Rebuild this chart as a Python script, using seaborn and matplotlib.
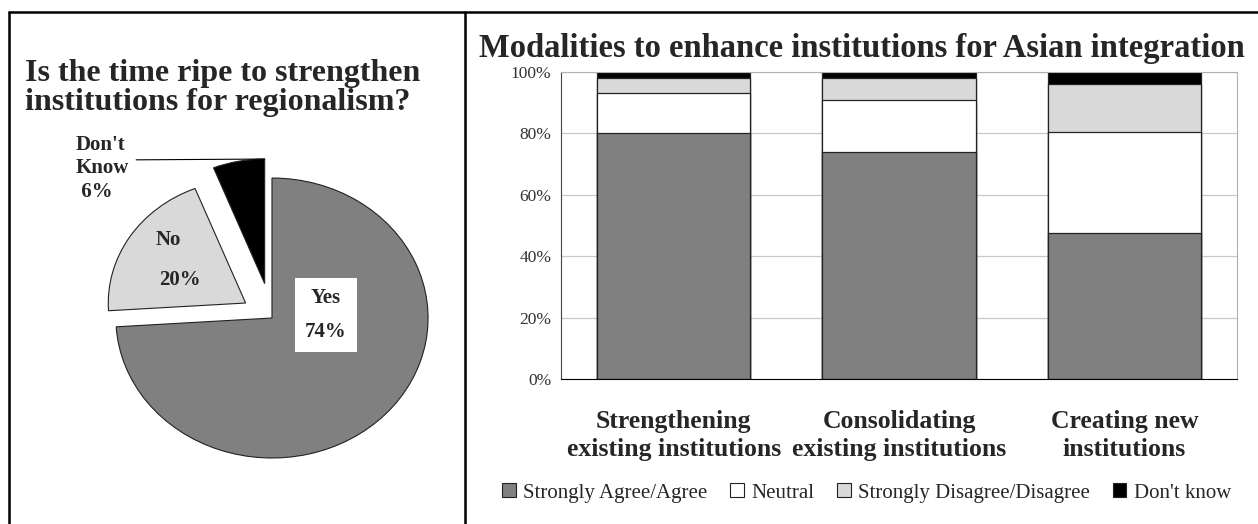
import numpy as np
import pandas as pd
import seaborn as sns
import matplotlib.pyplot as plt
from matplotlib.lines import Line2D
from matplotlib.patches import Patch

# pie data
pie_labels = ["Yes", "No", "Don't Know"]
pie_values = [74, 20, 6]
pie_colors = ["#808080", "#d9d9d9", "#000000"]

# stacked bar data (percent)
categories = ["Strengthening\nexisting institutions",
              "Consolidating\nexisting institutions",
              "Creating new\ninstitutions"]
series_names = ["Strongly Agree/Agree", "Neutral", "Strongly Disagree/Disagree", "Don't know"]
agree = [80, 74, 47.5]
neutral = [13, 17, 33]
disagree = [5, 7, 15.5]
dont_know = [2, 2, 4]
bar_colors = ["#808080", "#ffffff", "#d9d9d9", "#000000"]

sns.set_style("white")
plt.rcParams['font.family'] = ['Liberation Serif', 'DejaVu Serif']

fig = plt.figure(figsize=(12.58, 5.24), dpi=100)

# panel frame
for seg in [((0.0072, 0.0072), (0, 0.977)), ((0.0072, 1.0), (0.977, 0.977)), ((0.3696, 0.3696), (0, 0.977))]:
    fig.add_artist(Line2D(seg[0], seg[1], color="black", lw=1.8, transform=fig.transFigure))

# ---- pie ----
axp = fig.add_axes([0.0425, 0.0191, 0.3474, 0.748])
wedges, _ = axp.pie(pie_values, colors=pie_colors, startangle=90, counterclock=False,
                    explode=[0, 0.2, 0.25],
                    wedgeprops=dict(edgecolor="#222222", linewidth=0.8))
# exploded slices are drawn a bit smaller, like the original
wedges[1].set_radius(0.88)
wedges[2].set_radius(0.89)
axp.set_aspect("auto")
axp.set_xlim(-1.4, 1.4)
axp.set_ylim(-1.4, 1.4)
axp.axis("off")

lab_kw = dict(fontsize=15, fontweight="bold", ha="center", va="center")
axp.text(-0.667, 0.557, "No", **lab_kw)
axp.text(-0.59, 0.27, f"{pie_values[1]}%", **lab_kw)
axp.text(0.346, 0.021, f"{pie_labels[0]}\n\n{pie_values[0]}%", linespacing=0.8,
         bbox=dict(facecolor="white", edgecolor="none", pad=7), **lab_kw)
axp.text(-1.256, 1.31, f"Don't\nKnow\n {pie_values[2]}%", fontsize=15, fontweight="bold",
         ha="left", va="top", linespacing=1.25)
dk = wedges[2]
top_pt = (dk.center[0] + dk.r * np.cos(np.radians(90)), dk.center[1] + dk.r * np.sin(np.radians(90)))
axp.annotate("", xy=top_pt, xytext=(-0.87, 1.13),
             arrowprops=dict(arrowstyle="-", lw=0.8, color="black", shrinkA=0, shrinkB=0))

fig.text(0.0199, 0.888, "Is the time ripe to strengthen\ninstitutions for regionalism?",
         fontsize=23, fontweight="bold", ha="left", va="top", linespacing=1.0)

# ---- stacked bars ----
axb = fig.add_axes([0.446, 0.2767, 0.5374, 0.5859])
df = pd.DataFrame({"category": categories, series_names[0]: agree, series_names[1]: neutral,
                   series_names[2]: disagree, series_names[3]: dont_know})
cum = df[series_names].cumsum(axis=1)
for name, color in reversed(list(zip(series_names, bar_colors))):
    sns.barplot(x=df["category"], y=cum[name], color=color, width=0.68, saturation=1,
                edgecolor="#222222", linewidth=0.9, ax=axb, zorder=2)

axb.set_xlim(-0.5, 2.5)
axb.set_ylim(0, 100)
axb.set_yticks(range(0, 101, 20))
axb.set_yticklabels([f"{v}%" for v in range(0, 101, 20)], fontsize=12.5, color="#333333")
axb.yaxis.grid(True, color="#c8c8c8", lw=0.9, zorder=0)
axb.set_axisbelow(True)
axb.set_xticks([-0.5, 0.5, 1.5, 2.5])
axb.set_xticklabels([])
axb.set_xticks([0, 1, 2], minor=True)
axb.set_xticklabels(categories, minor=True, fontsize=18.5, fontweight="bold", linespacing=1.3)
axb.tick_params(axis="x", which="minor", length=0, pad=22)
axb.tick_params(axis="x", which="major", direction="out", length=6, color="#333333")
axb.tick_params(axis="y", direction="out", length=5, color="#333333", pad=2)
axb.set_xlabel("")
axb.set_ylabel("")
axb.spines["left"].set_color("#444444")
axb.spines["bottom"].set_color("black")
axb.spines["top"].set_color("#b0b0b0")
axb.spines["right"].set_color("#b0b0b0")

fig.text(0.685, 0.908, "Modalities to enhance institutions for Asian integration",
         fontsize=23.5, fontweight="bold", ha="center", va="center")

handles = [Patch(facecolor=c, edgecolor="#222222", linewidth=0.8) for c in bar_colors]
fig.legend(handles, series_names, loc="center", bbox_to_anchor=(0.689, 0.059), ncol=4,
           frameon=False, fontsize=15, handlelength=0.65, handleheight=0.65,
           handletextpad=0.35, columnspacing=1.1)

fig.savefig("out.png", dpi=100)
